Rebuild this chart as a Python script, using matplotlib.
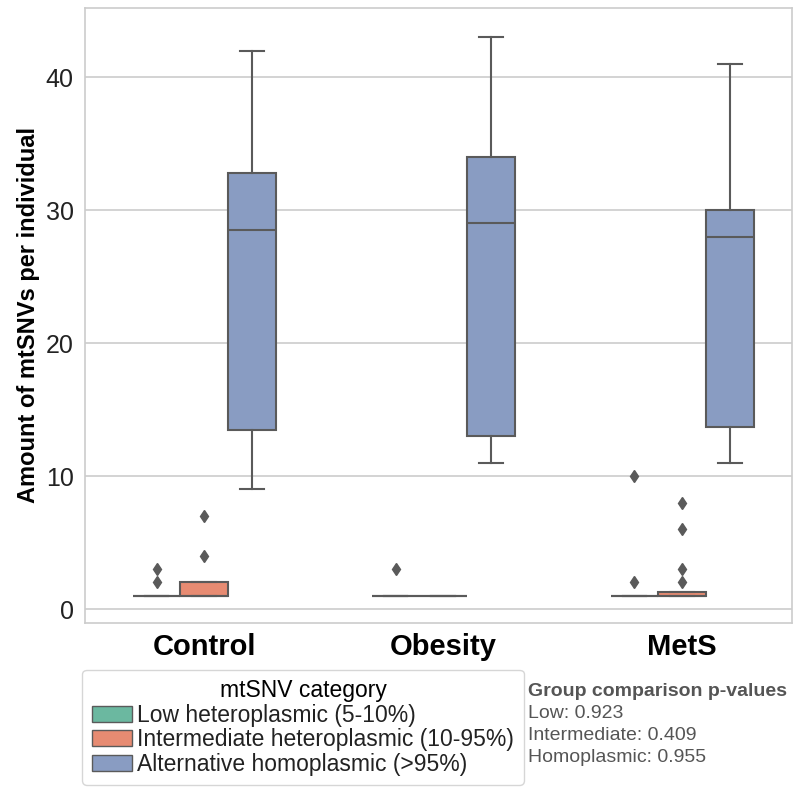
import matplotlib
matplotlib.use("Agg")
import matplotlib.pyplot as plt
from matplotlib.patches import Patch

groups = ["Control", "Obesity", "MetS"]
categories = ["Low heteroplasmic (5-10%)",
              "Intermediate heteroplasmic (10-95%)",
              "Alternative homoplasmic (>95%)"]
box_colors = ["#6bb8a0", "#e78b72", "#899cc2"]

# per category, one value per group (Control, Obesity, MetS)
q1 = [[1, 1, 1], [1, 1, 1], [13.5, 13, 13.7]]
med = [[1, 1, 1], [1, 1, 1], [28.5, 29, 28]]
q3 = [[1, 1, 1], [2, 1, 1.25], [32.8, 34, 30]]
wlo = [[1, 1, 1], [1, 1, 1], [9, 11, 11]]
whi = [[1, 1, 1], [2, 1, 1.25], [42, 43, 41]]
fliers = [[[2, 3], [3], [2, 10]],
          [[4, 7], [], [2, 3, 6, 8]],
          [[], [], []]]

pvals = [("Low", 0.923), ("Intermediate", 0.409), ("Homoplasmic", 0.955)]

plt.rcParams["font.family"] = ["Liberation Sans", "DejaVu Sans"]
fig = plt.figure(figsize=(7.93, 7.89), dpi=100)
ax = fig.add_axes([0.107, 0.2104, 0.892, 0.7795])

line_c = "#5a5a5a"
width = 0.6
n = len(categories)
bw = width / n
for k in range(n):
    stats = []
    for g in range(len(groups)):
        stats.append(dict(q1=q1[k][g], med=med[k][g], q3=q3[k][g],
                          whislo=wlo[k][g], whishi=whi[k][g],
                          fliers=fliers[k][g]))
    pos = [g - width / 2 + bw * (k + 0.5) for g in range(len(groups))]
    ax.bxp(stats, positions=pos, widths=bw, patch_artist=True,
           boxprops=dict(facecolor=box_colors[k], edgecolor=line_c, lw=1.5),
           medianprops=dict(color=line_c, lw=1.5),
           whiskerprops=dict(color=line_c, lw=1.5),
           capprops=dict(color=line_c, lw=1.5),
           flierprops=dict(marker="d", markerfacecolor=line_c, markeredgecolor=line_c,
                           markersize=6),
           capwidths=bw / 2, manage_ticks=False, zorder=3)

ax.set_xlim(-0.5, 2.46)
ax.set_ylim(-1.05, 45.2)
ax.set_xticks(range(len(groups)))
ax.set_xticklabels(groups, fontsize=21, fontweight="bold")
ax.set_yticks([0, 10, 20, 30, 40])
ax.tick_params(axis="y", labelsize=18, length=0, pad=8, colors="#222222")
ax.tick_params(axis="x", length=0, pad=7)
ax.set_ylabel("Amount of mtSNVs per individual", fontsize=17, fontweight="bold",
              labelpad=4)
ax.yaxis.grid(True, color="#cccccc", lw=1.2, zorder=0)
ax.set_axisbelow(True)
for s in ax.spines.values():
    s.set_color("#cccccc")
    s.set_linewidth(1.2)

handles = [Patch(facecolor=c, edgecolor=line_c, lw=1) for c in box_colors]
leg = fig.legend(handles, categories, title="mtSNV category", loc="upper left",
                 bbox_to_anchor=(0.104, 0.151), fontsize=16.5, title_fontsize=16.5,
                 handlelength=1.75, handleheight=0.7, handletextpad=0.25,
                 labelspacing=0.07, borderpad=0.4, borderaxespad=0,
                 frameon=True, fancybox=True)
leg.get_frame().set_edgecolor("#cccccc")
for t in leg.get_texts():
    t.set_color("#222222")

fig.text(0.666, 0.123, "Group comparison p-values", fontsize=14,
         fontweight="bold", color="#555555", va="center")
for i, (name, p) in enumerate(pvals):
    fig.text(0.666, 0.123 - 0.0275 * (i + 1), f"{name}: {p:.3f}", fontsize=14,
             color="#555555", va="center")

fig.savefig("out.png", dpi=100)
